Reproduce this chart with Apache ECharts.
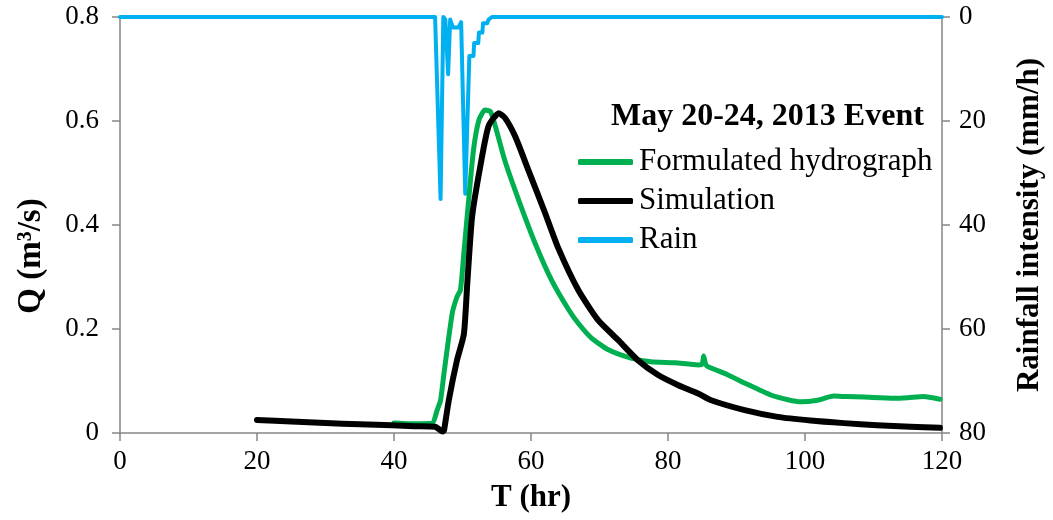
<!DOCTYPE html>
<html>
<head>
<meta charset="utf-8">
<script src="https://cdn.jsdelivr.net/npm/echarts@6/dist/echarts.min.js"></script>
<style>
  html, body { margin: 0; padding: 0; background: #fff; }
  #chart { width: 1053px; height: 520px; }
</style>
</head>
<body>
<div id="chart"></div>
<script>
// Formulated hydrograph: time (hr) and discharge (m3/s)
const hydroT = [40, 42, 44, 45.6, 46.3, 46.8, 47.3, 48.5, 49.2, 49.7, 50.2, 50.9, 51.6, 52.4, 53.3, 54.1, 55.0, 56.2, 58.2, 60.6, 63.0, 65.5, 66.9, 68.8, 71.3, 74.6, 77.5, 81.0, 84.4, 85.0, 85.2, 85.5, 85.8, 88.7, 91.2, 95.0, 97.5, 99.4, 101.8, 104.2, 106.0, 108.6, 113.0, 115.0, 117.3, 119.7];
const hydroQ = [0.019, 0.018, 0.018, 0.019, 0.044, 0.063, 0.115, 0.23, 0.262, 0.275, 0.346, 0.448, 0.544, 0.602, 0.621, 0.618, 0.58, 0.523, 0.448, 0.365, 0.294, 0.237, 0.211, 0.183, 0.160, 0.144, 0.137, 0.135, 0.131, 0.133, 0.148, 0.132, 0.128, 0.112, 0.096, 0.073, 0.064, 0.060, 0.063, 0.071, 0.070, 0.069, 0.067, 0.068, 0.070, 0.065];

// Simulated hydrograph
const simT = [20, 25, 30, 35, 39.7, 43, 46.0, 47.1, 47.3, 48.0, 49.2, 50.2, 50.7, 51.4, 52.6, 53.8, 55.3, 56.2, 57.7, 59.6, 62.0, 64.0, 66.9, 69.8, 72.7, 75.6, 78.5, 81.5, 84.4, 86.3, 91.2, 96.0, 100.8, 105.7, 110.5, 115.4, 119.7];
const simQ = [0.025, 0.022, 0.019, 0.017, 0.015, 0.013, 0.012, 0.003, 0.005, 0.063, 0.14, 0.19, 0.288, 0.416, 0.513, 0.59, 0.615, 0.606, 0.57, 0.506, 0.425, 0.355, 0.275, 0.217, 0.179, 0.14, 0.112, 0.092, 0.076, 0.063, 0.044, 0.031, 0.024, 0.019, 0.015, 0.012, 0.010];

// Rainfall intensity (mm/h)
const rainT = [0, 46.0, 46.8, 47.2, 47.5, 47.9, 48.1, 48.2, 48.6, 49.4, 49.8, 50.4, 50.6, 51.0, 51.2, 51.6, 51.7, 52.3, 52.4, 52.9, 53.0, 53.6, 53.8, 54.3, 120];
const rainI = [0, 0, 35, 0, 0.5, 11, 11, 0.5, 2, 2, 1, 34, 34, 7.5, 7.5, 7.5, 5, 5, 3, 3, 1.2, 1.2, 0.5, 0, 0];

// Axis ticks
const timeTicks = { min: 0, max: 120, interval: 20 };
const flowTicks = { min: 0, max: 0.8, interval: 0.2 };
const rainTicks = { min: 0, max: 80, interval: 20 };

const zip = (xs, ys) => xs.map((x, i) => [x, ys[i]]);

const FONT = '"Liberation Serif", "Times New Roman", serif';
const AXIS_GREY = '#868686';

const axisCommon = {
  axisLine: { show: true, lineStyle: { color: AXIS_GREY, width: 1.5 } },
  axisTick: { show: true, inside: false, length: 8, lineStyle: { color: AXIS_GREY, width: 1.5 } },
  splitLine: { show: false },
  axisLabel: { color: '#000', fontFamily: FONT, fontSize: 27 },
  nameTextStyle: { color: '#000', fontFamily: FONT, fontSize: 30, fontWeight: 'bold' }
};

const chart = echarts.init(document.getElementById('chart'), null, { renderer: 'canvas' });

chart.setOption({
  backgroundColor: '#fff',
  animation: false,
  grid: { left: 120, right: 108, top: 17, bottom: 87, containLabel: false },
  title: {
    text: 'May 20-24, 2013 Event',
    left: 606, top: 96,
    textStyle: { fontFamily: FONT, fontSize: 32, fontWeight: 'bold', color: '#000' }
  },
  legend: {
    orient: 'vertical',
    left: 573, top: 141,
    itemWidth: 55, itemHeight: 6, itemGap: 7,
    icon: 'roundRect',
    textStyle: { fontFamily: FONT, fontSize: 31, color: '#000', lineHeight: 32, padding: [0, 0, 0, 1] },
    data: ['Formulated hydrograph', 'Simulation', 'Rain']
  },
  xAxis: Object.assign({}, axisCommon, {
    type: 'value',
    min: timeTicks.min, max: timeTicks.max, interval: timeTicks.interval,
    name: 'T (hr)', nameLocation: 'middle', nameGap: 49,
    nameTextStyle: Object.assign({}, axisCommon.nameTextStyle, { fontSize: 31 }),
    axisLabel: Object.assign({}, axisCommon.axisLabel, { margin: 15 })
  }),
  yAxis: [
    Object.assign({}, axisCommon, {
      type: 'value',
      min: flowTicks.min, max: flowTicks.max, interval: flowTicks.interval,
      name: 'Q (m³/s)', nameLocation: 'middle', nameGap: 72, nameRotate: 90,
      nameTextStyle: Object.assign({}, axisCommon.nameTextStyle, { fontSize: 33, padding: [0, 62, 0, 0] }),
      axisLabel: Object.assign({}, axisCommon.axisLabel, { margin: 21 })
    }),
    Object.assign({}, axisCommon, {
      type: 'value', position: 'right', inverse: true,
      min: rainTicks.min, max: rainTicks.max, interval: rainTicks.interval,
      name: 'Rainfall intensity (mm/h)', nameLocation: 'middle', nameGap: 72, nameRotate: 90,
      nameTextStyle: Object.assign({}, axisCommon.nameTextStyle, { fontSize: 31 }),
      axisLabel: Object.assign({}, axisCommon.axisLabel, { margin: 17 })
    })
  ],
  series: [
    {
      name: 'Rain', type: 'line', yAxisIndex: 1, clip: false,
      data: zip(rainT, rainI), showSymbol: false, symbol: 'none',
      lineStyle: { color: '#00B0F0', width: 4, join: 'round', cap: 'round' },
      itemStyle: { color: '#00B0F0' }, z: 2
    },
    {
      name: 'Formulated hydrograph', type: 'line', yAxisIndex: 0, clip: false,
      data: zip(hydroT, hydroQ), showSymbol: false, symbol: 'none', smooth: 0.2,
      lineStyle: { color: '#00B050', width: 5, join: 'round', cap: 'round' },
      itemStyle: { color: '#00B050' }, z: 3
    },
    {
      name: 'Simulation', type: 'line', yAxisIndex: 0, clip: false,
      data: zip(simT, simQ), showSymbol: false, symbol: 'none', smooth: 0.2,
      lineStyle: { color: '#000000', width: 6, join: 'round', cap: 'round' },
      itemStyle: { color: '#000000' }, z: 4
    }
  ]
});
</script>
</body>
</html>
